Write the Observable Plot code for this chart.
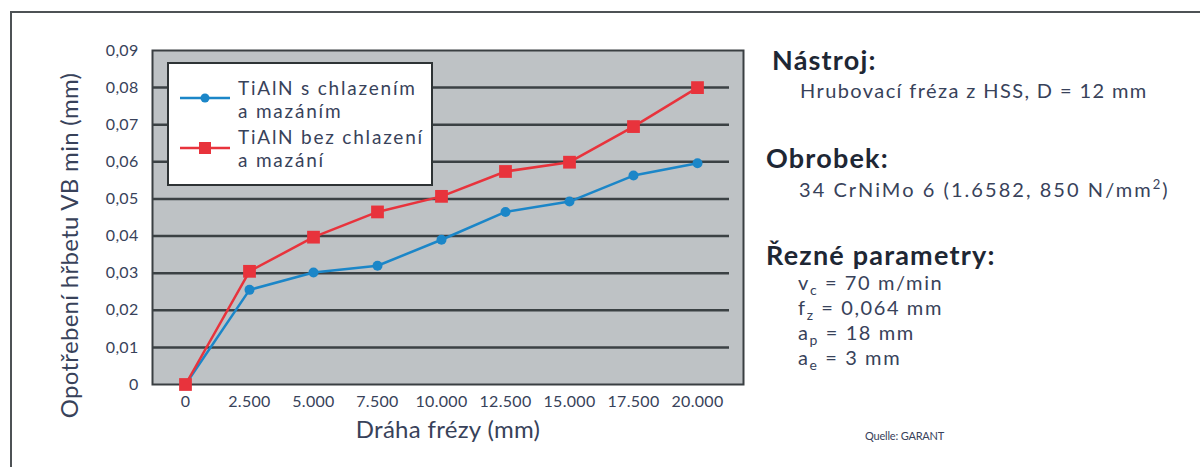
<!DOCTYPE html>
<html>
<head>
<meta charset="utf-8">
<script src="https://cdn.jsdelivr.net/npm/d3@7"></script>
<script src="https://cdn.jsdelivr.net/npm/@observablehq/plot@0.6"></script>
<style>
  html, body { margin: 0; padding: 0; background: #fff; }
  #wrap { position: relative; width: 1200px; height: 467px; overflow: hidden; font-family: Lato, sans-serif; }
  #outer { position: absolute; left: 10px; top: 11px; width: 1400px; height: 700px; border: 2px solid #4d5255; box-sizing: border-box; }
  #chart { position: absolute; left: 0; top: 0; }
  #overlay { position: absolute; left: 0; top: 0; }
</style>
</head>
<body>
<div id="wrap">
  <div id="outer"></div>
  <div id="chart"></div>
  <svg id="overlay" width="1200" height="467"></svg>
</div>
<script>
// ---- data ----
const distances = [0, 2500, 5000, 7500, 10000, 12500, 15000, 17500, 20000];
const wearWithCooling = [0, 0.0255, 0.0302, 0.032, 0.039, 0.0465, 0.0493, 0.0563, 0.0596];
const wearWithoutCooling = [0, 0.0305, 0.0397, 0.0465, 0.0507, 0.0574, 0.0599, 0.0695, 0.080];
const yTicks = [0, 0.01, 0.02, 0.03, 0.04, 0.05, 0.06, 0.07, 0.08, 0.09];
const seriesLabels = [["TiAlN s chlazením", "a mazáním"], ["TiAlN bez chlazení", "a mazání"]];
const xTitle = "Dráha frézy (mm)";
const yTitle = "Opotřebení hřbetu VB min (mm)";

const blue = "#1b86c8";
const red = "#e8333c";
const textCol = "#38425a";
const FONT = "Lato, sans-serif";

const seriesA = distances.map((d, i) => ({x: d, y: wearWithCooling[i]}));
const seriesB = distances.map((d, i) => ({x: d, y: wearWithoutCooling[i]}));
const step = distances[1] - distances[0];
const gridX1 = distances[0] - step / 2;
const gridX2 = distances[distances.length - 1] + step / 2;

const fmtY = d => d === 0 ? "0" : d3.format(".2f")(d).replace(".", ",");
const fmtX = d => d === 0 ? "0" : d3.format(",")(d).replace(/,/g, ".");

const plot = Plot.plot({
  width: 760,
  height: 467,
  marginLeft: 152,
  marginTop: 50,
  marginRight: 17,
  marginBottom: 83,
  style: {fontFamily: FONT, fontSize: "16px", color: textCol, background: "transparent", overflow: "visible", letterSpacing: "0.3px"},
  x: {domain: [-1289, 21797]},
  y: {domain: [0, 0.09]},
  marks: [
    Plot.frame({fill: "#bec2c5", stroke: "#3a3f42", strokeWidth: 2}),
    Plot.ruleY(yTicks.slice(1, -1), {x1: gridX1, x2: gridX2, stroke: "#3b4144", strokeWidth: 2.5}),
    Plot.axisY({ticks: yTicks, tickSize: 0, tickPadding: 14, tickFormat: fmtY, label: null}),
    Plot.axisX({ticks: distances, tickSize: 0, tickPadding: 11, tickFormat: fmtX, label: null}),
    Plot.line(seriesA, {x: "x", y: "y", stroke: blue, strokeWidth: 2.5}),
    Plot.dot(seriesA, {x: "x", y: "y", r: 5, fill: blue, stroke: null}),
    Plot.line(seriesB, {x: "x", y: "y", stroke: red, strokeWidth: 2.5}),
    Plot.dot(seriesB, {x: "x", y: "y", symbol: "square", r: 7.2, fill: red, stroke: null}),
    Plot.text([xTitle], {frameAnchor: "bottom", dy: 53, fontSize: 24, fill: textCol, text: d => d, style: {letterSpacing: "1px"}}),
    Plot.text([yTitle], {frameAnchor: "left", textAnchor: "middle", rotate: -90, dx: -82, dy: 28, fontSize: 24, fill: textCol, text: d => d})
  ]
});
document.getElementById("chart").appendChild(plot);

// ---- legend and side notes ----
const ov = d3.select("#overlay");
const lg = ov.append("g");
lg.append("rect").attr("x", 168).attr("y", 63).attr("width", 264).attr("height", 122)
  .attr("fill", "#fff").attr("stroke", "#2e3335").attr("stroke-width", 2);
const legendRows = [{c: blue, y: 98, sym: "circle", lines: seriesLabels[0], base: 95},
                    {c: red, y: 148, sym: "square", lines: seriesLabels[1], base: 144}];
legendRows.forEach(r => {
  lg.append("line").attr("x1", 180).attr("x2", 230).attr("y1", r.y).attr("y2", r.y)
    .attr("stroke", r.c).attr("stroke-width", 2.5);
  if (r.sym === "circle") lg.append("circle").attr("cx", 205).attr("cy", r.y).attr("r", 4.5).attr("fill", r.c);
  else lg.append("rect").attr("x", 199).attr("y", r.y - 6).attr("width", 12).attr("height", 12).attr("fill", r.c);
  const t = lg.append("text").attr("x", 238).attr("y", r.base).attr("font-size", 19)
    .attr("letter-spacing", 1.8).attr("fill", textCol).attr("font-family", FONT);
  r.lines.forEach((line, i) => {
    t.append("tspan").attr("x", 238).attr("dy", i === 0 ? 0 : 23).text(line);
  });
});

const side = ov.append("g").attr("font-family", FONT);
function head(x, y, t) {
  side.append("text").attr("x", x).attr("y", y).attr("font-size", 27).attr("font-weight", 700)
    .attr("letter-spacing", 1.2).attr("fill", "#1e2734").text(t);
}
function bodyText(x, y, ls) {
  return side.append("text").attr("x", x).attr("y", y).attr("font-size", 20)
    .attr("letter-spacing", ls).attr("fill", textCol);
}
head(772, 70, "Nástroj:");
bodyText(800, 98, 1.4).text("Hrubovací fréza z HSS, D = 12 mm");
head(766, 168, "Obrobek:");
{
  const t = bodyText(799, 197, 2.05);
  t.append("tspan").text("34 CrNiMo 6 (1.6582, 850 N/mm");
  t.append("tspan").attr("font-size", 13).attr("dy", -8).text("2");
  t.append("tspan").attr("dy", 8).text(")");
}
head(766, 265, "Řezné parametry:");
const params = [["v", "c", " = 70 m/min"], ["f", "z", " = 0,064 mm"], ["a", "p", " = 18 mm"], ["a", "e", " = 3 mm"]];
{
  const t = bodyText(798, 290, 1.6);
  params.forEach((p, i) => {
    t.append("tspan").attr("x", 798).attr("dy", i === 0 ? 0 : 25).text(p[0]);
    t.append("tspan").attr("font-size", 14).attr("dy", 5).text(p[1]);
    t.append("tspan").attr("dy", -5).text(p[2]);
  });
}
side.append("text").attr("x", 865).attr("y", 440).attr("font-size", 11).attr("fill", textCol)
  .attr("letter-spacing", -0.2).text("Quelle: GARANT");
</script>
</body>
</html>
